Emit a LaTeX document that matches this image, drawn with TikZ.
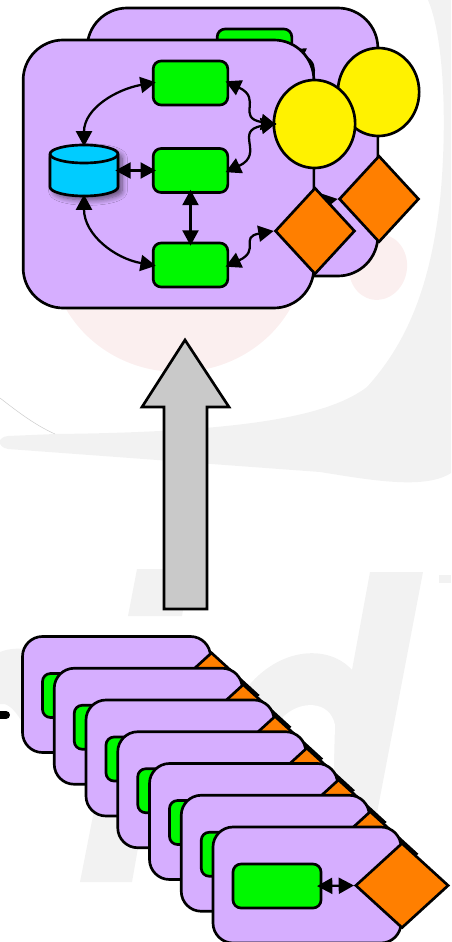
\documentclass[tikz,border=0pt]{standalone}
\usetikzlibrary{arrows.meta,shapes.geometric,shadows.blur}

\definecolor{panelcol}{HTML}{D6AEFF}
\definecolor{taskcol}{HTML}{00F800}
\definecolor{storecol}{HTML}{00CCFF}
\definecolor{gatecol}{HTML}{FF7F00}
\definecolor{markgray}{HTML}{F2F2F2}
\definecolor{markpink}{HTML}{FBEFEF}

\tikzstyle{every node} = [draw = black, line width = 2pt, inner sep = 0pt]
\tikzstyle{panelnode} = [rectangle, rounded corners = 30pt, fill = panelcol, minimum width = 218pt, minimum height = 201pt]
\tikzstyle{smallpanel} = [rectangle, rounded corners = 15pt, fill = panelcol, minimum width = 141pt, minimum height = 87pt]
\tikzstyle{tasknode} = [rectangle, rounded corners = 6pt, fill = taskcol, minimum width = 56pt, minimum height = 33pt]
\tikzstyle{widetask} = [tasknode, minimum width = 66pt]
\tikzstyle{storenode} = [rectangle, draw = none, minimum width = 51pt, minimum height = 38pt]
\tikzstyle{storeline} = [draw = black, line width = 2pt, fill = storecol]
\tikzstyle{ballnode} = [ellipse, fill = yellow, minimum width = 61pt, minimum height = 66pt]
\tikzstyle{gatenode} = [diamond, fill = gatecol, minimum width = 60pt, minimum height = 65pt]
\tikzstyle{biggate} = [gatenode, minimum width = 70pt, minimum height = 64pt]
\tikzstyle{link} = [<->, line width = 1.7pt, shorten < = -3pt, shorten > = -3pt]

\begin{document}
\begin{tikzpicture}[x = 0.75pt, y = 0.75pt, >={Triangle[length = 11.5pt, width = 12pt, fill = black]}]
			\useasboundingbox (0,0) rectangle (451,-942);
			% faint logo behind the picture
			\fill[markpink] (178,-250) ellipse (128 and 122);
			\fill[markpink, rotate around = {-10:(378,-267)}] (378,-267) ellipse (29 and 33);
			\fill[markgray] (428,0) .. controls (445,-40) and (447,-130) .. (440,-200) .. controls (430,-290) and (405,-345) .. (367,-387) .. controls (330,-415) and (250,-432) .. (55,-434) -- (8,-436) .. controls (-3,-437) and (-3,-447) .. (8,-449) -- (320,-472) .. controls (370,-480) and (425,-490) .. (451,-473) -- (451,0) -- cycle;
			\draw[markgray!85!black, line width = .4pt] (0,-398) .. controls (18,-412) and (35,-425) .. (55,-434);
			\fill[markgray] (137,-569) -- (190,-569) -- (182,-616) -- (128,-616) -- cycle;
			\fill[markgray] (370,-572) -- (423,-572) -- (377,-813) -- (330,-830) -- (200,-830) -- (245,-690) .. controls (280,-645) and (330,-645) .. (352,-670) -- cycle;
			\fill[white] (283,-717) .. controls (300,-700) and (330,-700) .. (335,-725) -- (333,-800) -- (240,-800) -- cycle;
			\fill[markgray] (80,-882) -- (132,-882) -- (150,-780) -- (100,-780) -- cycle;
			\fill[markgray] (0,-652) .. controls (10,-648) and (20,-648) .. (30,-650) -- (60,-720) -- (22,-722) .. controls (12,-705) and (5,-703) .. (0,-704) -- cycle;
			\fill[markgray] (439,-575) rectangle (451,-583);

			% the two big panels, back one first
			\foreach \n/\dx/\dy in {B/64/32, F/0/0} {
				\begin{scope}[shift = {(\dx,\dy)}]
					\node[panelnode] (P\n) at (168.5,-174) {};
					\node[tasknode] (T\n) at (190.5,-83) {};
					\node[tasknode] (M\n) at (190.5,-170.5) {};
					\node[tasknode] (L\n) at (190.5,-265) {};
					\node[storenode] (S\n) at (84,-170.5) {};
					\path[storeline, blur shadow = {shadow xshift = 3pt, shadow yshift = -3pt, shadow blur steps = 8, shadow blur radius = 4pt, shadow opacity = 55}] (50,-154) -- (50,-187) arc (180:360:34 and 9) -- (118,-154) arc (0:180:34 and 9) -- cycle;
					\draw[line width = 2pt] (50,-154) arc (180:360:34 and 9);
					\node[ballnode] (C\n) at (314.5,-124) {};
					\node[gatenode] (D\n) at (315,-231) {};
					\path[link]
					(S\n.north) edge[out = 90, in = 190, shorten < = -2pt] (T\n.west)
					(S\n.south) edge[out = -90, in = 170, shorten < = -2pt] (L\n.west)
					(S\n.east) edge (M\n.west)
					(M\n.south) edge (L\n.north)
					(T\n.east) edge[out = -25, in = 170, looseness = 1.6] (C\n.west)
					(M\n.east) edge[out = 25, in = 190, looseness = 1.6] (C\n.west)
					(L\n.east) edge[out = 25, in = 190, looseness = 1.6, shorten > = 0pt] (D\n.west);
				\end{scope}
			}

			% block arrow
			\draw[line width = 2pt, fill = black!21] (185,-340) -- (229,-407) -- (207,-407) -- (207,-609) -- (164,-609) -- (164,-407) -- (142,-407) -- cycle;

			% the stack of small panels
			\draw[line width = 6pt, line cap = round] (0,-715) -- (6,-715);
			\foreach \i in {0,...,6} {
				\begin{scope}[shift = {(31.75*\i,-31.75*\i)}]
					\node[smallpanel] (Q\i) at (116.5,-694.5) {};
					\node[widetask] (W\i) at (86.5,-695.5) {};
					\node[biggate] (H\i) at (211.5,-695) {};
					\path[link, shorten > = 0pt, shorten < = -4pt] (W\i.east) edge (H\i.west);
				\end{scope}
			}
		\end{tikzpicture}
\end{document}
